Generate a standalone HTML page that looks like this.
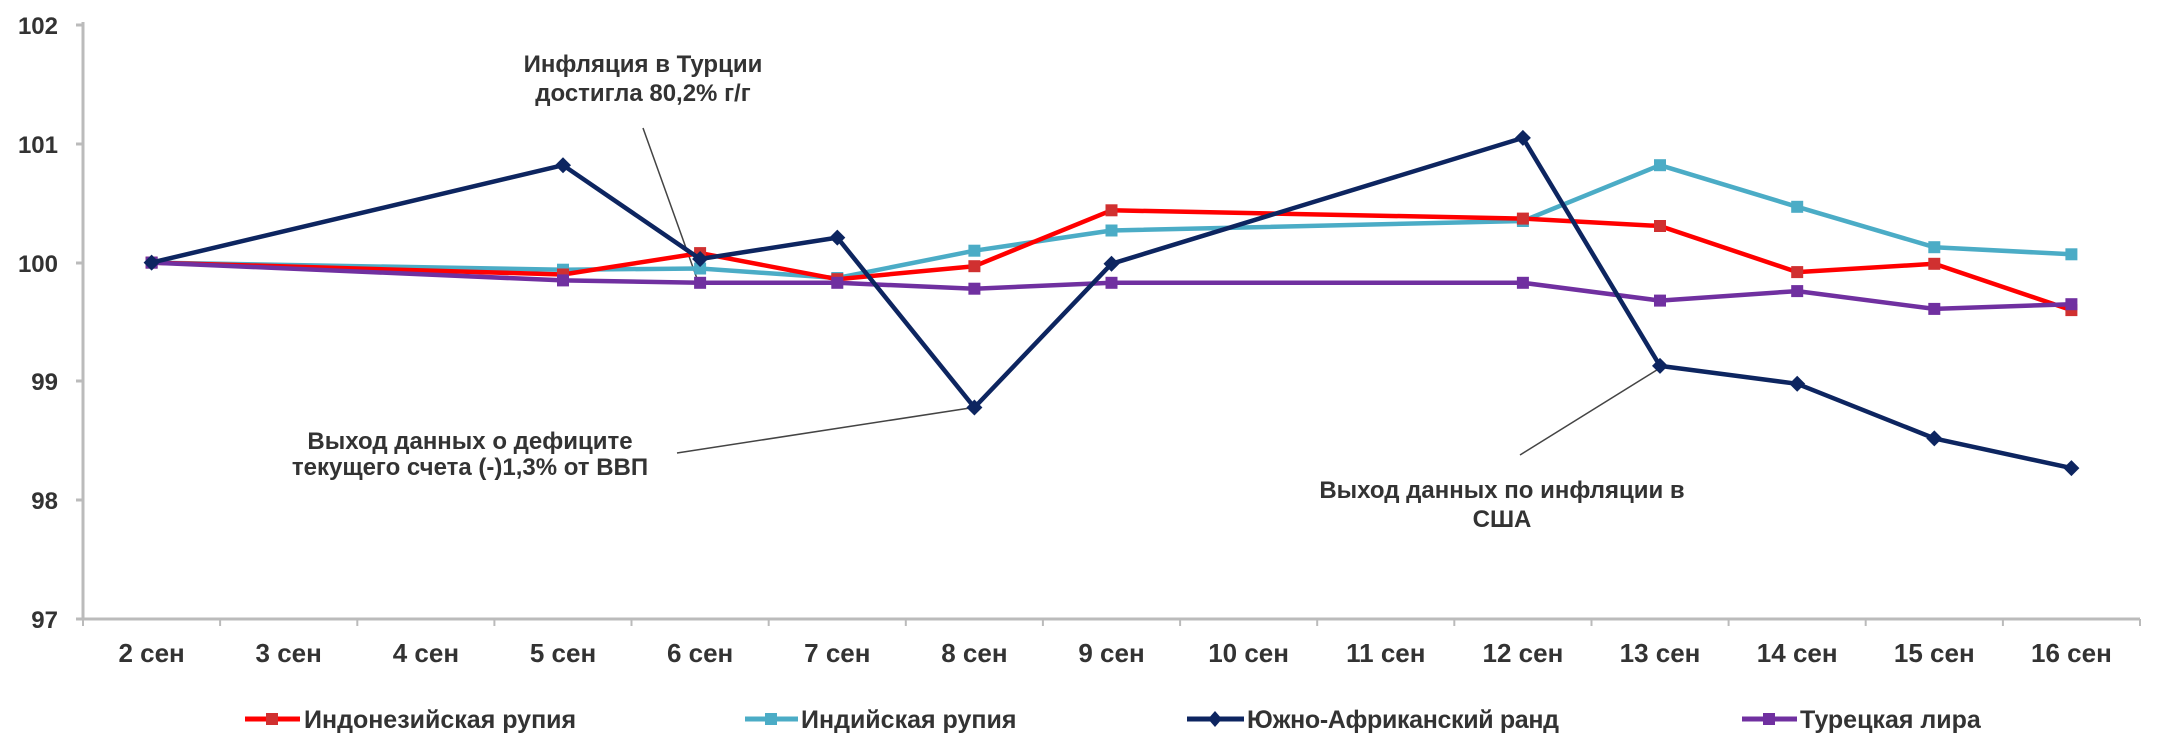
<!DOCTYPE html>
<html><head><meta charset="utf-8"><style>
html,body{margin:0;padding:0;background:#fff;}
svg{display:block;}
text{font-family:"Liberation Sans",Arial,sans-serif;fill:#333;}
</style></head><body>
<svg width="2160" height="751" viewBox="0 0 2160 751" xmlns="http://www.w3.org/2000/svg">
<defs>
<rect id="sq" x="-6" y="-6" width="12" height="12"/>
<path id="di" d="M0 -8 L8 0 L0 8 L-8 0Z"/>
</defs>
<g stroke="#bbb" stroke-width="3" fill="none">
<line x1="83" y1="22" x2="83" y2="619"/>
<line x1="76" y1="619" x2="2140" y2="619"/>
<line x1="76" y1="25" x2="83" y2="25"/>
<line x1="76" y1="144" x2="83" y2="144"/>
<line x1="76" y1="263" x2="83" y2="263"/>
<line x1="76" y1="381" x2="83" y2="381"/>
<line x1="76" y1="500" x2="83" y2="500"/>
</g>
<g stroke="#bbb" stroke-width="2">
<line x1="83" y1="619" x2="83" y2="626"/><line x1="220.1" y1="619" x2="220.1" y2="626"/><line x1="357.3" y1="619" x2="357.3" y2="626"/><line x1="494.4" y1="619" x2="494.4" y2="626"/><line x1="631.5" y1="619" x2="631.5" y2="626"/><line x1="768.7" y1="619" x2="768.7" y2="626"/><line x1="905.8" y1="619" x2="905.8" y2="626"/><line x1="1042.9" y1="619" x2="1042.9" y2="626"/><line x1="1180.1" y1="619" x2="1180.1" y2="626"/><line x1="1317.2" y1="619" x2="1317.2" y2="626"/><line x1="1454.3" y1="619" x2="1454.3" y2="626"/><line x1="1591.5" y1="619" x2="1591.5" y2="626"/><line x1="1728.6" y1="619" x2="1728.6" y2="626"/><line x1="1865.7" y1="619" x2="1865.7" y2="626"/><line x1="2002.9" y1="619" x2="2002.9" y2="626"/><line x1="2140" y1="619" x2="2140" y2="626"/>
</g>
<g font-size="24" text-anchor="end" font-weight="bold">
<text x="58" y="34">102</text><text x="58" y="153">101</text><text x="58" y="272">100</text>
<text x="58" y="390">99</text><text x="58" y="509">98</text><text x="58" y="628">97</text>
</g>
<g font-size="26" text-anchor="middle" font-weight="bold">
<text x="151.6" y="662">2 сен</text><text x="288.7" y="662">3 сен</text><text x="425.9" y="662">4 сен</text><text x="563" y="662">5 сен</text><text x="700.1" y="662">6 сен</text><text x="837.3" y="662">7 сен</text><text x="974.4" y="662">8 сен</text><text x="1111.5" y="662">9 сен</text><text x="1248.6" y="662">10 сен</text><text x="1385.8" y="662">11 сен</text><text x="1522.9" y="662">12 сен</text><text x="1660" y="662">13 сен</text><text x="1797.2" y="662">14 сен</text><text x="1934.3" y="662">15 сен</text><text x="2071.4" y="662">16 сен</text>
</g>
<g stroke="#444" stroke-width="1.5">
<line x1="643" y1="128" x2="700" y2="287"/>
<line x1="677" y1="453" x2="970" y2="408"/>
<line x1="1520" y1="455" x2="1660" y2="368"/>
</g>
<g font-size="24" font-weight="bold" text-anchor="middle">
<text x="643" y="72">Инфляция в Турции</text>
<text x="643" y="101">достигла 80,2% г/г</text>
<text x="470" y="449">Выход данных о дефиците</text>
<text x="470" y="475">текущего счета (-)1,3% от ВВП</text>
<text x="1502" y="498">Выход данных по инфляции в</text>
<text x="1502" y="527">США</text>
</g>
<!-- Indian -->
<polyline fill="none" stroke="#4bacc6" stroke-width="4.5" stroke-linejoin="round" points="151.6,262.6 563,269.7 700.1,268.5 837.3,278 974.4,250.7 1111.5,230.5 1522.9,221 1660,165.2 1797.2,206.8 1934.3,247.2 2071.4,254.3"/>
<g fill="#4bacc6"><use href="#sq" x="151.6" y="262.6"/><use href="#sq" x="563" y="269.7"/><use href="#sq" x="700.1" y="268.5"/><use href="#sq" x="837.3" y="278"/><use href="#sq" x="974.4" y="250.7"/><use href="#sq" x="1111.5" y="230.5"/><use href="#sq" x="1522.9" y="221"/><use href="#sq" x="1660" y="165.2"/><use href="#sq" x="1797.2" y="206.8"/><use href="#sq" x="1934.3" y="247.2"/><use href="#sq" x="2071.4" y="254.3"/></g>
<!-- Indonesian -->
<polyline fill="none" stroke="#f00" stroke-width="4.5" stroke-linejoin="round" points="151.6,262.6 563,274.5 700.1,253.1 837.3,279.2 974.4,266.2 1111.5,210.3 1522.9,218.6 1660,226 1797.2,272.1 1934.3,263.8 2071.4,310.1"/>
<g fill="#d03030"><use href="#sq" x="151.6" y="262.6"/><use href="#sq" x="563" y="274.5"/><use href="#sq" x="700.1" y="253.1"/><use href="#sq" x="837.3" y="279.2"/><use href="#sq" x="974.4" y="266.2"/><use href="#sq" x="1111.5" y="210.3"/><use href="#sq" x="1522.9" y="218.6"/><use href="#sq" x="1660" y="226"/><use href="#sq" x="1797.2" y="272.1"/><use href="#sq" x="1934.3" y="263.8"/><use href="#sq" x="2071.4" y="310.1"/></g>
<!-- Purple -->
<polyline fill="none" stroke="#7030a0" stroke-width="4.5" stroke-linejoin="round" points="151.6,262.6 563,280.4 700.1,282.8 837.3,282.8 974.4,288.7 1111.5,282.8 1522.9,282.8 1660,300.6 1797.2,291.1 1934.3,308.9 2071.4,304.2"/>
<g fill="#7030a0"><use href="#sq" x="151.6" y="262.6"/><use href="#sq" x="563" y="280.4"/><use href="#sq" x="700.1" y="282.8"/><use href="#sq" x="837.3" y="282.8"/><use href="#sq" x="974.4" y="288.7"/><use href="#sq" x="1111.5" y="282.8"/><use href="#sq" x="1522.9" y="282.8"/><use href="#sq" x="1660" y="300.6"/><use href="#sq" x="1797.2" y="291.1"/><use href="#sq" x="1934.3" y="308.9"/><use href="#sq" x="2071.4" y="304.2"/></g>
<!-- ZAR -->
<polyline fill="none" stroke="#0d2560" stroke-width="4.5" stroke-linejoin="round" points="151.6,262.6 563,165.2 700.1,259 837.3,237.6 974.4,407.5 1111.5,263.8 1522.9,137.9 1660,365.9 1797.2,383.8 1934.3,438.4 2071.4,468.1"/>
<g fill="#0d2560"><use href="#di" x="151.6" y="262.6"/><use href="#di" x="563" y="165.2"/><use href="#di" x="700.1" y="259"/><use href="#di" x="837.3" y="237.6"/><use href="#di" x="974.4" y="407.5"/><use href="#di" x="1111.5" y="263.8"/><use href="#di" x="1522.9" y="137.9"/><use href="#di" x="1660" y="365.9"/><use href="#di" x="1797.2" y="383.8"/><use href="#di" x="1934.3" y="438.4"/><use href="#di" x="2071.4" y="468.1"/></g>
<g font-size="25" font-weight="bold">
<line x1="245" y1="719" x2="300" y2="719" stroke="#f00" stroke-width="5"/><rect x="266" y="713" width="12" height="12" fill="#d03030"/>
<text x="304" y="728">Индонезийская рупия</text>
<line x1="745" y1="719" x2="798" y2="719" stroke="#4bacc6" stroke-width="5"/><rect x="765" y="713" width="12" height="12" fill="#4bacc6"/>
<text x="801" y="728">Индийская рупия</text>
<line x1="1187" y1="719" x2="1244" y2="719" stroke="#0d2560" stroke-width="5"/><path d="M1215 711 L1222 719 L1215 727 L1208 719Z" fill="#0d2560"/>
<text x="1247" y="728" textLength="312">Южно-Африканский ранд</text>
<line x1="1742" y1="719" x2="1797" y2="719" stroke="#7030a0" stroke-width="5"/><rect x="1763" y="713" width="12" height="12" fill="#7030a0"/>
<text x="1800" y="728">Турецкая лира</text>
</g>
</svg>
</body></html>
